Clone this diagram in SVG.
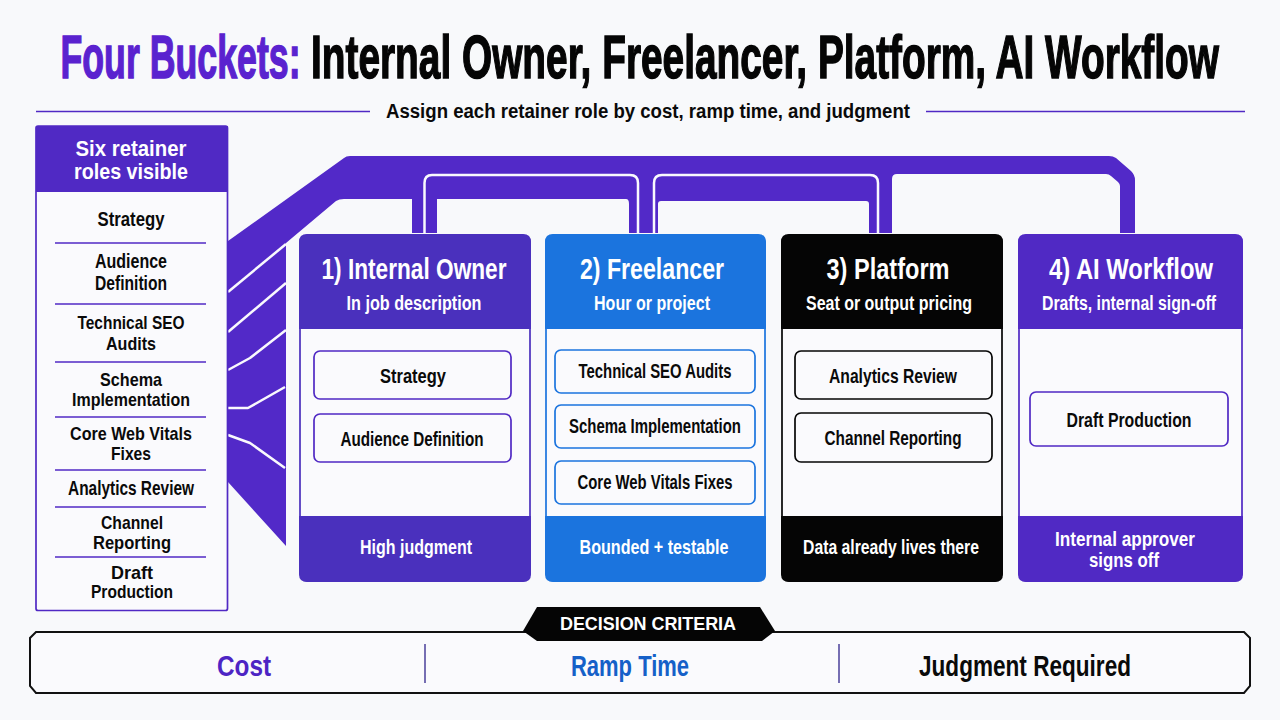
<svg xmlns="http://www.w3.org/2000/svg" width="1280" height="720" viewBox="0 0 1280 720">
<defs><style>
text{font-family:"Liberation Sans Narrow","Liberation Sans",Arial,sans-serif;font-weight:700;text-anchor:middle}
.rule{stroke:#5029c4;stroke-width:1.500;fill:none}
.sep{stroke:#5029c4;stroke-width:1.300}
.wl{stroke:#f9f9fd;stroke-width:2.500;fill:none;stroke-linejoin:round}
.role{font-size:20px;fill:#0a0a0a}
.role2{font-size:18.500px;fill:#0a0a0a}
.head{font-size:29px;fill:#fff}
.sub{font-size:20px;fill:#fff}
.foot{font-size:21px;fill:#fff}
.item{font-size:21px;fill:#0a0a0a}
.ib{fill:#fafafd;stroke-width:1.700}
.big{font-size:62px;stroke-width:1.500;font-family:"Liberation Sans",Arial,sans-serif}
</style></defs>
<rect width="1280" height="720" fill="#f8f9fb"/>
<g id="title">
<text transform="translate(180.500 78) scale(.576 1)" class="big" fill="#5a22cf" stroke="#5a22cf">Four Buckets:</text>
<text transform="translate(765 78) scale(.626 1)" class="big" fill="#050505" stroke="#050505">Internal Owner, Freelancer, Platform, AI Workflow</text>
<line x1="36" y1="111.500" x2="370" y2="111.500" class="rule"/>
<line x1="926" y1="111.500" x2="1245" y2="111.500" class="rule"/>
<text x="648" y="118" font-size="20" fill="#0a0a0a" textLength="524" lengthAdjust="spacingAndGlyphs" style="font-family:'Liberation Sans',Arial,sans-serif">Assign each retainer role by cost, ramp time, and judgment</text>
</g>
<g id="connectors">
<path fill="#5229c8" d="M228 241L344 158Q346 156 350 156H1109Q1113 156 1116 158L1131 171Q1135 175 1135 180V233H1120V186Q1120 184 1118 182L1111 176Q1109 174 1106 174H897Q892 174 892 179V233H869V204Q869 201 866 201H661Q658 201 658 204V233H629V204Q629 199 626 199H344Q339 199 336 201L286 243V546L228 482Z"/>
<path fill="#5229c8" d="M412 199H437V233H412Z"/>
<path class="wl" d="M424.500 233V183Q424.500 175 432 175H630Q638 175 638 183V233"/>
<path class="wl" d="M654 233V183Q654 175 662 175H870Q878 175 878 183V233"/>
<path class="wl" d="M228 292L286 244"/>
<path class="wl" d="M228 332L286 283"/>
<path class="wl" d="M228 370L250 358L286 330"/>
<path class="wl" d="M228 408H248L285 387"/>
<path class="wl" d="M228 435L250 443L285 468"/>
</g>
<g id="roles">
<rect x="36" y="126" width="191.500" height="484.500" rx="2" fill="#fafafd" stroke="#5029c4" stroke-width="1.700"/>
<rect x="36" y="126" width="192" height="66" fill="#5029c4"/>
<text x="131" y="156" font-size="21.500" fill="#fff" textLength="111" lengthAdjust="spacingAndGlyphs">Six retainer</text>
<text x="131" y="179" font-size="21.500" fill="#fff" textLength="114" lengthAdjust="spacingAndGlyphs">roles visible</text>
<text x="131" y="226" class="role" textLength="67" lengthAdjust="spacingAndGlyphs">Strategy</text>
<line x1="55" y1="243" x2="206" y2="243" class="sep"/>
<text x="131" y="268" class="role" textLength="72" lengthAdjust="spacingAndGlyphs">Audience</text>
<text x="131" y="290" class="role" textLength="72" lengthAdjust="spacingAndGlyphs">Definition</text>
<line x1="55" y1="304" x2="206" y2="304" class="sep"/>
<text x="131" y="329" class="role2" textLength="107" lengthAdjust="spacingAndGlyphs">Technical SEO</text>
<text x="131" y="350" class="role2" textLength="50" lengthAdjust="spacingAndGlyphs">Audits</text>
<line x1="55" y1="362" x2="206" y2="362" class="sep"/>
<text x="131" y="386" class="role2" textLength="62" lengthAdjust="spacingAndGlyphs">Schema</text>
<text x="131" y="406" class="role2" textLength="118" lengthAdjust="spacingAndGlyphs">Implementation</text>
<line x1="55" y1="417" x2="206" y2="417" class="sep"/>
<text x="131" y="440" class="role2" textLength="122" lengthAdjust="spacingAndGlyphs">Core Web Vitals</text>
<text x="131" y="460" class="role2" textLength="40" lengthAdjust="spacingAndGlyphs">Fixes</text>
<line x1="55" y1="470" x2="206" y2="470" class="sep"/>
<text x="131" y="495" class="role" textLength="126" lengthAdjust="spacingAndGlyphs">Analytics Review</text>
<line x1="55" y1="507" x2="206" y2="507" class="sep"/>
<text x="132" y="529" class="role2" textLength="62" lengthAdjust="spacingAndGlyphs">Channel</text>
<text x="132" y="549" class="role2" textLength="78" lengthAdjust="spacingAndGlyphs">Reporting</text>
<line x1="55" y1="557" x2="206" y2="557" class="sep"/>
<text x="132" y="579" class="role2" textLength="42" lengthAdjust="spacingAndGlyphs">Draft</text>
<text x="132" y="598" class="role2" textLength="82" lengthAdjust="spacingAndGlyphs">Production</text>
</g>
<g id="bucket-1">
<rect x="300" y="235" width="230" height="346" rx="8" fill="#fafafd" stroke="#4a30bd" stroke-width="1.700"/>
<path fill="#4a30bd" d="M299 329V242Q299 234 307 234H523Q531 234 531 242V329Z"/>
<path fill="#4a30bd" d="M299 516V574Q299 582 307 582H523Q531 582 531 574V516Z"/>
<text x="414" y="279" class="head" textLength="185" lengthAdjust="spacingAndGlyphs">1) Internal Owner</text>
<text x="414" y="310" class="sub" textLength="135" lengthAdjust="spacingAndGlyphs">In job description</text>
<rect x="314" y="351" width="197" height="48" rx="6" class="ib" stroke="#5029c4"/>
<text x="413" y="383" class="item" textLength="66" lengthAdjust="spacingAndGlyphs">Strategy</text>
<rect x="314" y="414" width="197" height="48" rx="6" class="ib" stroke="#5029c4"/>
<text x="412" y="446" class="item" textLength="143" lengthAdjust="spacingAndGlyphs">Audience Definition</text>
<text x="416" y="554" class="foot" textLength="112" lengthAdjust="spacingAndGlyphs">High judgment</text>
</g>
<g id="bucket-2">
<rect x="546" y="235" width="219" height="346" rx="8" fill="#fafafd" stroke="#1b74de" stroke-width="1.700"/>
<path fill="#1b74de" d="M545 329V242Q545 234 553 234H758Q766 234 766 242V329Z"/>
<path fill="#1b74de" d="M545 516V574Q545 582 553 582H758Q766 582 766 574V516Z"/>
<text x="652" y="279" class="head" textLength="144" lengthAdjust="spacingAndGlyphs">2) Freelancer</text>
<text x="652" y="310" class="sub" textLength="116" lengthAdjust="spacingAndGlyphs">Hour or project</text>
<rect x="555" y="350" width="200" height="43" rx="6" class="ib" stroke="#1b74de"/>
<text x="655" y="378" class="item" textLength="153" lengthAdjust="spacingAndGlyphs">Technical SEO Audits</text>
<rect x="555" y="405" width="200" height="43" rx="6" class="ib" stroke="#1b74de"/>
<text x="655" y="433" class="item" textLength="172" lengthAdjust="spacingAndGlyphs">Schema Implementation</text>
<rect x="555" y="461" width="200" height="43" rx="6" class="ib" stroke="#1b74de"/>
<text x="655" y="489" class="item" textLength="155" lengthAdjust="spacingAndGlyphs">Core Web Vitals Fixes</text>
<text x="654" y="554" class="foot" textLength="149" lengthAdjust="spacingAndGlyphs">Bounded + testable</text>
</g>
<g id="bucket-3">
<rect x="782" y="235" width="220" height="346" rx="8" fill="#fafafd" stroke="#050505" stroke-width="1.700"/>
<path fill="#050505" d="M781 329V242Q781 234 789 234H995Q1003 234 1003 242V329Z"/>
<path fill="#050505" d="M781 516V574Q781 582 789 582H995Q1003 582 1003 574V516Z"/>
<text x="888" y="279" class="head" textLength="123" lengthAdjust="spacingAndGlyphs">3) Platform</text>
<text x="889" y="310" class="sub" textLength="166" lengthAdjust="spacingAndGlyphs">Seat or output pricing</text>
<rect x="795" y="351" width="197" height="48" rx="6" class="ib" stroke="#050505"/>
<text x="893" y="383" class="item" textLength="128" lengthAdjust="spacingAndGlyphs">Analytics Review</text>
<rect x="795" y="413" width="197" height="49" rx="6" class="ib" stroke="#050505"/>
<text x="893" y="445" class="item" textLength="137" lengthAdjust="spacingAndGlyphs">Channel Reporting</text>
<text x="891" y="554" class="foot" textLength="176" lengthAdjust="spacingAndGlyphs">Data already lives there</text>
</g>
<g id="bucket-4">
<rect x="1019" y="235" width="223" height="346" rx="8" fill="#fafafd" stroke="#5029c4" stroke-width="1.700"/>
<path fill="#5029c4" d="M1018 329V242Q1018 234 1026 234H1235Q1243 234 1243 242V329Z"/>
<path fill="#5029c4" d="M1018 516V574Q1018 582 1026 582H1235Q1243 582 1243 574V516Z"/>
<text x="1131" y="279" class="head" textLength="164" lengthAdjust="spacingAndGlyphs">4) AI Workflow</text>
<text x="1129" y="310" class="sub" textLength="174" lengthAdjust="spacingAndGlyphs">Drafts, internal sign-off</text>
<rect x="1030" y="392" width="198" height="54" rx="6" class="ib" stroke="#5029c4"/>
<text x="1129" y="427" class="item" textLength="125" lengthAdjust="spacingAndGlyphs">Draft Production</text>
<text x="1125" y="546" class="foot" textLength="140" lengthAdjust="spacingAndGlyphs">Internal approver</text>
<text x="1124" y="567" class="foot" textLength="70" lengthAdjust="spacingAndGlyphs">signs off</text>
</g>
<g id="criteria">
<path d="M36 632H1244L1250 638V686L1244 693H36L30 686V638Z" fill="#fafafd" stroke="#111" stroke-width="2"/>
<path d="M523 631L537 607H760L775 631L762 641H537Z" fill="#050505"/>
<text x="648" y="630" font-size="18" fill="#fff" textLength="176" lengthAdjust="spacing">DECISION CRITERIA</text>
<line x1="425" y1="644" x2="425" y2="683" stroke="#4a3f9a" stroke-width="1.500"/>
<line x1="839" y1="644" x2="839" y2="683" stroke="#4a3f9a" stroke-width="1.500"/>
<text x="244" y="676" font-size="29" fill="#4d24c4" textLength="54" lengthAdjust="spacingAndGlyphs">Cost</text>
<text x="630" y="676" font-size="29" fill="#1560c8" textLength="118" lengthAdjust="spacingAndGlyphs">Ramp Time</text>
<text x="1025" y="676" font-size="29" fill="#0a0a0a" textLength="212" lengthAdjust="spacingAndGlyphs">Judgment Required</text>
</g>
</svg>
